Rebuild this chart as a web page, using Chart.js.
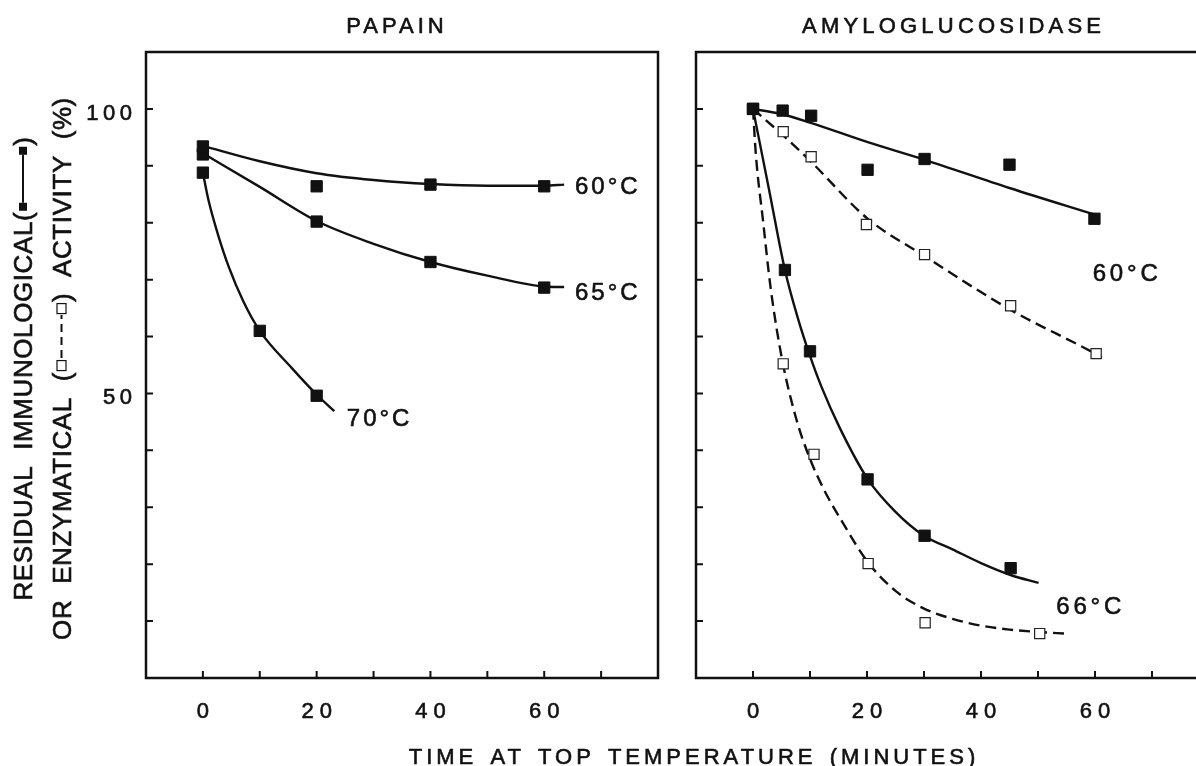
<!DOCTYPE html>
<html>
<head>
<meta charset="utf-8">
<script src="https://cdn.jsdelivr.net/npm/chart.js@4.4.1/dist/chart.umd.min.js"></script>
<style>
  html, body { margin: 0; padding: 0; background: #fff; overflow: hidden; }
  #stage { position: relative; width: 1196px; height: 766px; overflow: hidden; }
  #stage canvas { position: absolute; top: 0; }
  #papainChart { left: 0; }
  #amyChart { left: 680px; }
</style>
</head>
<body>
<div id="stage">
  <canvas id="papainChart" width="1196" height="766"></canvas>
  <canvas id="amyChart" width="560" height="766"></canvas>
</div>
<script>
"use strict";

// time in minutes, residual activity in %
const papainTime = [0, 20, 40, 60];
const papain60 = [93.4, 86.4, 86.7, 86.4];
const papain65 = [92.0, 80.2, 73.1, 68.6];
const papain70Time = [0, 10, 20];
const papain70 = [88.8, 61.0, 49.6];

// fitted curves as drawn in the figure
const papain60FitTime = [0, 10, 20, 30, 40, 50, 60, 63.5];
const papain60Fit = [93.5, 90.8, 88.7, 87.5, 86.8, 86.5, 86.5, 86.7];
const papain65FitTime = [0, 10, 20, 30, 40, 50, 60, 63.5];
const papain65Fit = [92.2, 86.3, 80.3, 76.3, 73.1, 70.7, 68.8, 68.7];
const papain70FitTime = [0, 1, 2.6, 4.6, 7.1, 10, 15.6, 20.2, 23.1];
const papain70Fit = [88.8, 83.9, 78.1, 72.1, 66.2, 61.0, 54.5, 49.6, 46.9];

const amy60ImmunoTime = [0, 5.2, 10.2, 20.1, 30.1, 45, 59.9];
const amy60Immuno = [100, 99.7, 98.8, 89.3, 91.2, 90.2, 80.7];
const amy60EnzymeTime = [0, 5.3, 10.2, 19.9, 30.1, 45.2, 60.2];
const amy60Enzyme = [100, 96.0, 91.6, 79.7, 74.4, 65.4, 57.0];
const amy66ImmunoTime = [0, 5.6, 10, 20.1, 30.1, 45.2];
const amy66Immuno = [100, 71.7, 57.4, 34.9, 25.0, 19.3];
const amy66EnzymeTime = [5.3, 10.7, 20.2, 30.2, 50.3];
const amy66Enzyme = [55.2, 39.3, 20.1, 9.7, 7.8];

const amy60ImmunoFitTime = [0, 5, 10, 20, 30, 45, 60];
const amy60ImmunoFit = [100, 99.1, 97.6, 94.2, 91.1, 86.1, 81.4];
const amy60EnzymeFitTime = [0, 5, 10, 20, 30, 45, 60, 61.2];
const amy60EnzymeFit = [100, 95.6, 90.9, 80.8, 74.2, 64.8, 57.0, 56.3];
const amy66ImmunoFitTime = [0, 2.8, 5.6, 8, 10, 12, 15.2, 20.1, 25, 30, 35, 40, 45.2, 50.1];
const amy66ImmunoFit = [100, 85.9, 71.7, 62.8, 56.6, 51.2, 44.0, 35.0, 29.2, 25.0, 22.6, 20.2, 18.1, 16.7];
const amy66EnzymeFitTime = [0, 0.5, 1.8, 3.1, 5.1, 7.6, 10, 12.5, 15.2, 20.2, 25, 30, 35, 40, 45, 50, 54.9];
const amy66EnzymeFit = [100, 92, 80, 68.5, 56, 45.5, 38.5, 33, 28.2, 20.3, 15.3, 12.2, 10.4, 9.2, 8.5, 8.1, 7.8];

// curve labels, placed in data units
const papainTempLabels = ['60°C', '65°C', '70°C'];
const papainTempLabelTime = [65.4, 65.4, 25.3];
const papainTempLabelValue = [86.6, 68.0, 45.8];
const amyTempLabels = ['60°C', '66°C'];
const amyTempLabelTime = [59.6, 53.2];
const amyTempLabelValue = [71.2, 12.7];

// axis labels
const timeTickLabels = [0, 20, 40, 60];
const activityTickLabels = [50, 100];
const xTitle = 'TIME AT TOP TEMPERATURE (MINUTES)';
const yTitleLine1 = ['RESIDUAL IMMUNOLOGICAL(', 'solid', ')'];
const yTitleLine2 = ['OR ENZYMATICAL (', 'dashed', ') ACTIVITY (%)'];

const FONT = '"Liberation Sans", Arial, Helvetica, sans-serif';
const INK = '#111';

function pts(xs, ys) {
    return xs.map((x, i) => ({ x: x, y: ys[i] }));
}

function filledPoints(xs, ys) {
    return {
        data: pts(xs, ys), showLine: false, pointStyle: 'rect', pointRadius: 8,
        backgroundColor: INK, borderColor: INK, borderWidth: 1
    };
}

function openPoints(xs, ys) {
    return {
        data: pts(xs, ys), showLine: false, pointStyle: 'rect', pointRadius: 7.2,
        backgroundColor: '#fff', borderColor: '#222', borderWidth: 1.2
    };
}

function fitLine(xs, ys, dashed) {
    return {
        data: pts(xs, ys), showLine: true, pointRadius: 0, borderColor: INK, borderWidth: 2.4,
        borderDash: dashed ? [11, 6] : [], cubicInterpolationMode: 'monotone', fill: false
    };
}

// text with letter spacing, slightly stroked to match the heavier print
function spacedText(ctx, text, x, y, align, spacing) {
    ctx.letterSpacing = spacing + 'px';
    const w = ctx.measureText(text).width - spacing;
    let sx = x;
    if (align === 'center') sx = x - w / 2;
    if (align === 'right') sx = x - w;
    ctx.textAlign = 'left';
    ctx.fillText(text, sx, y);
    ctx.strokeText(text, sx, y);
}

// legend glyph drawn inline in the rotated y title
function drawLegendGlyph(ctx, kind, u, v) {
    ctx.save();
    ctx.strokeStyle = INK;
    ctx.lineWidth = 2;
    if (kind === 'solid') {
        ctx.fillStyle = INK;
        ctx.fillRect(u, v - 4, 8, 8);
        ctx.beginPath(); ctx.moveTo(u + 8, v); ctx.lineTo(u + 56, v); ctx.stroke();
        ctx.fillRect(u + 56, v - 4, 8, 8);
    } else {
        ctx.lineWidth = 1.2;
        ctx.strokeRect(u + 0.5, v - 4.5, 10, 9);
        ctx.lineWidth = 2;
        ctx.setLineDash([8, 5]);
        ctx.beginPath(); ctx.moveTo(u + 13, v); ctx.lineTo(u + 56, v); ctx.stroke();
        ctx.setLineDash([]);
        ctx.lineWidth = 1.2;
        ctx.strokeRect(u + 57.5, v - 4.5, 10, 9);
    }
    ctx.restore();
}

function legendWidth(kind) {
    return kind === 'solid' ? 64 : 68;
}

function drawTitleLine(ctx, parts, centerU, baselineV) {
    const capMid = baselineV - 9;
    let total = 0;
    parts.forEach(p => {
        total += (p === 'solid' || p === 'dashed') ? legendWidth(p) + 2 : ctx.measureText(p).width;
    });
    let u = centerU - total / 2;
    parts.forEach(p => {
        if (p === 'solid' || p === 'dashed') {
            drawLegendGlyph(ctx, p, u + 1, capMid);
            u += legendWidth(p) + 2;
        } else {
            ctx.fillText(p, u, baselineV);
            ctx.strokeText(p, u, baselineV);
            u += ctx.measureText(p).width;
        }
    });
}

function panelDecor(cfg) {
    return {
        id: 'panelDecor',
        afterDraw(chart) {
            const ctx = chart.ctx;
            const area = chart.chartArea;
            const xs = chart.scales.x;
            const ys = chart.scales.y;
            ctx.save();

            ctx.strokeStyle = INK;
            ctx.lineWidth = 2.5;
            ctx.strokeRect(area.left, area.top, area.right - area.left, area.bottom - area.top);

            // inward tick marks
            ctx.lineWidth = 2;
            ctx.beginPath();
            ys.ticks.forEach(t => {
                if (t.value > ys.min && t.value < ys.max) {
                    const py = ys.getPixelForValue(t.value);
                    ctx.moveTo(area.left, py);
                    ctx.lineTo(area.left + 7, py);
                }
            });
            xs.ticks.forEach(t => {
                if (t.value > xs.min && t.value < xs.max) {
                    const px = xs.getPixelForValue(t.value);
                    ctx.moveTo(px, area.bottom);
                    ctx.lineTo(px, area.bottom - 7);
                }
            });
            ctx.stroke();

            ctx.fillStyle = INK;
            ctx.lineWidth = 0.6;
            ctx.textBaseline = 'alphabetic';

            ctx.font = '22px ' + FONT;
            timeTickLabels.forEach(v => {
                spacedText(ctx, String(v), xs.getPixelForValue(v), area.bottom + 39.5, 'center', 6);
            });
            if (cfg.yLabels) {
                activityTickLabels.forEach(v => {
                    spacedText(ctx, String(v), area.left - 14, ys.getPixelForValue(v) + 11, 'right', 4.5);
                });
            }

            spacedText(ctx, cfg.title, (area.left + area.right) / 2 + cfg.titleShift, 32.5, 'center', cfg.titleSpacing);

            ctx.font = '24px ' + FONT;
            cfg.labels.forEach((txt, i) => {
                spacedText(ctx, txt, xs.getPixelForValue(cfg.labelTime[i]),
                    ys.getPixelForValue(cfg.labelValue[i]) + 8.6, 'left', cfg.labelSpacing);
            });

            if (cfg.axisTitles) {
                ctx.font = '22px ' + FONT;
                ctx.wordSpacing = '3px';
                spacedText(ctx, xTitle, 692, 763.5, 'center', 4.0);

                ctx.font = '26px ' + FONT;
                ctx.letterSpacing = '0.6px';
                ctx.wordSpacing = '8px';
                ctx.textAlign = 'left';
                ctx.save();
                ctx.rotate(-Math.PI / 2);
                drawTitleLine(ctx, yTitleLine1, -368.5, 32);
                drawTitleLine(ctx, yTitleLine2, -368.5, 70.5);
                ctx.restore();
            }
            ctx.restore();
        }
    };
}

function panelScales(yWidth) {
    return {
        x: {
            type: 'linear', min: -10, max: 80,
            ticks: { stepSize: 10, display: false },
            grid: { display: false },
            border: { display: false },
            afterFit: s => { s.height = 88; }
        },
        y: {
            type: 'linear', min: 0, max: 110,
            ticks: { stepSize: 10, display: false },
            grid: { display: false },
            border: { display: false },
            afterFit: s => { s.width = yWidth; }
        }
    };
}

function baseOptions(yWidth, padRight) {
    return {
        responsive: false,
        animation: false,
        events: [],
        layout: { padding: { top: 52, right: padRight, bottom: 0, left: 0 } },
        plugins: { legend: { display: false }, tooltip: { enabled: false }, title: { display: false } },
        scales: panelScales(yWidth)
    };
}

new Chart(document.getElementById('papainChart'), {
    type: 'scatter',
    data: {
        datasets: [
            filledPoints(papainTime, papain60),
            filledPoints(papainTime, papain65),
            filledPoints(papain70Time, papain70),
            fitLine(papain60FitTime, papain60Fit, false),
            fitLine(papain65FitTime, papain65Fit, false),
            fitLine(papain70FitTime, papain70Fit, false)
        ]
    },
    options: baseOptions(146, 538),
    plugins: [panelDecor({
        title: 'PAPAIN', titleSpacing: 4, titleShift: -7, yLabels: true, axisTitles: true,
        labels: papainTempLabels, labelTime: papainTempLabelTime, labelValue: papainTempLabelValue,
        labelSpacing: 3
    })]
});

new Chart(document.getElementById('amyChart'), {
    type: 'scatter',
    data: {
        datasets: [
            filledPoints(amy60ImmunoTime, amy60Immuno),
            filledPoints(amy66ImmunoTime, amy66Immuno),
            openPoints(amy60EnzymeTime, amy60Enzyme),
            openPoints(amy66EnzymeTime, amy66Enzyme),
            fitLine(amy60ImmunoFitTime, amy60ImmunoFit, false),
            fitLine(amy66ImmunoFitTime, amy66ImmunoFit, false),
            fitLine(amy60EnzymeFitTime, amy60EnzymeFit, true),
            fitLine(amy66EnzymeFitTime, amy66EnzymeFit, true)
        ]
    },
    options: baseOptions(16, 31),
    plugins: [panelDecor({
        title: 'AMYLOGLUCOSIDASE', titleSpacing: 4.2, titleShift: -1, yLabels: false, axisTitles: false,
        labels: amyTempLabels, labelTime: amyTempLabelTime, labelValue: amyTempLabelValue,
        labelSpacing: 3.8
    })]
});
</script>
</body>
</html>
